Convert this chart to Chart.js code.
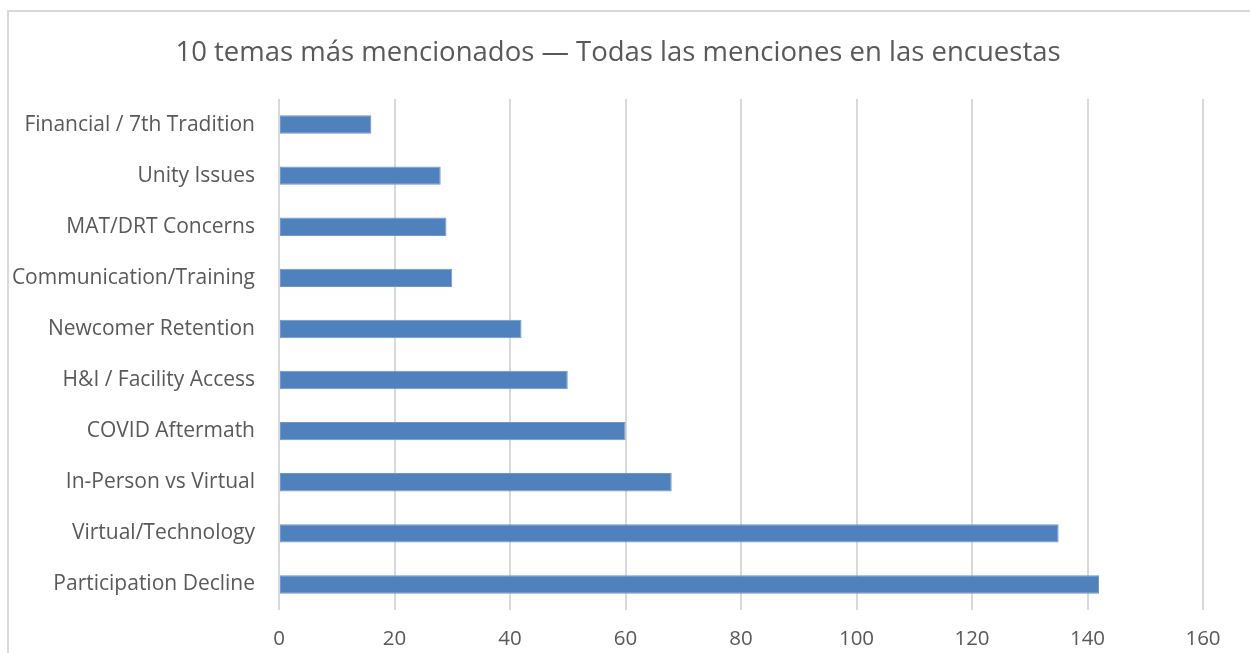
<!DOCTYPE html>
<html>
<head>
<meta charset="utf-8">
<script src="https://cdn.jsdelivr.net/npm/chart.js@4.4.1/dist/chart.umd.min.js"></script>
<style>
    html, body { margin: 0; padding: 0; background: #fff; overflow: hidden; }
    #wrap { position: relative; width: 1250px; height: 653px; }
    #frame {
        position: absolute; left: 7px; top: 10px; width: 1260px; height: 660px;
        border: 2px solid #d9d9d9; box-sizing: border-box;
    }
    canvas { position: absolute; left: 0; top: 0; }
</style>
</head>
<body>
<div id="wrap">
    <div id="frame"></div>
    <canvas id="myChart" width="1250" height="653"></canvas>
</div>
<script>
// Data
const labels = [
    "Financial / 7th Tradition",
    "Unity Issues",
    "MAT/DRT Concerns",
    "Communication/Training",
    "Newcomer Retention",
    "H&I / Facility Access",
    "COVID Aftermath",
    "In-Person vs Virtual",
    "Virtual/Technology",
    "Participation Decline"
];
const mentions = [16, 28, 29, 30, 42, 50, 60, 68, 135, 142];
const xTicks = [0, 20, 40, 60, 80, 100, 120, 140, 160];

const titleText = "10 temas más mencionados — Todas las menciones en las encuestas";
const textColor = "#595959";
const fontName = "'Open Sans', 'Noto Sans', sans-serif";

// Title is centred on the frame, not on the plot, so move its box a bit
const shiftTitle = {
    id: "shiftTitle",
    afterLayout(chart) {
        if (chart.titleBlock) {
            chart.titleBlock.left = 33;
            chart.titleBlock.right = 1203;
        }
    }
};

let ctx = document.getElementById("myChart").getContext("2d");

let myChart = new Chart(ctx, {
    type: "bar",
    data: {
        labels: labels,
        datasets: [{
            label: "Menciones",
            data: mentions,
            backgroundColor: "#4f81bd",
            borderColor: "#6f97c9",
            borderWidth: 1,
            borderSkipped: false,
            categoryPercentage: 1,
            barPercentage: 0.36
        }]
    },
    options: {
        indexAxis: "y",
        responsive: false,
        animation: false,
        layout: { padding: { top: 4, right: 47, bottom: 0, left: 0 } },
        plugins: {
            legend: { display: false },
            tooltip: { enabled: false },
            title: {
                display: true,
                text: titleText,
                color: textColor,
                font: { family: fontName, size: 27.5, weight: "normal" },
                padding: { top: 32.5, bottom: 29.5 }
            }
        },
        scales: {
            x: {
                min: 0,
                max: 160,
                afterBuildTicks: function(scale) {
                    scale.ticks = xTicks.map(v => ({ value: v }));
                },
                afterFit: function(scale) { scale.height = 43; },
                border: { display: false },
                grid: { color: "#d9d9d9", lineWidth: 2, drawTicks: false },
                ticks: {
                    color: textColor,
                    padding: 17,
                    font: { family: fontName, size: 20.5 }
                }
            },
            y: {
                afterFit: function(scale) { scale.width = 279; },
                border: { display: false },
                grid: { display: false, drawTicks: false },
                ticks: {
                    color: textColor,
                    padding: 24,
                    autoSkip: false,
                    font: { family: fontName, size: 21 }
                }
            }
        }
    },
    plugins: [shiftTitle]
});
</script>
</body>
</html>
